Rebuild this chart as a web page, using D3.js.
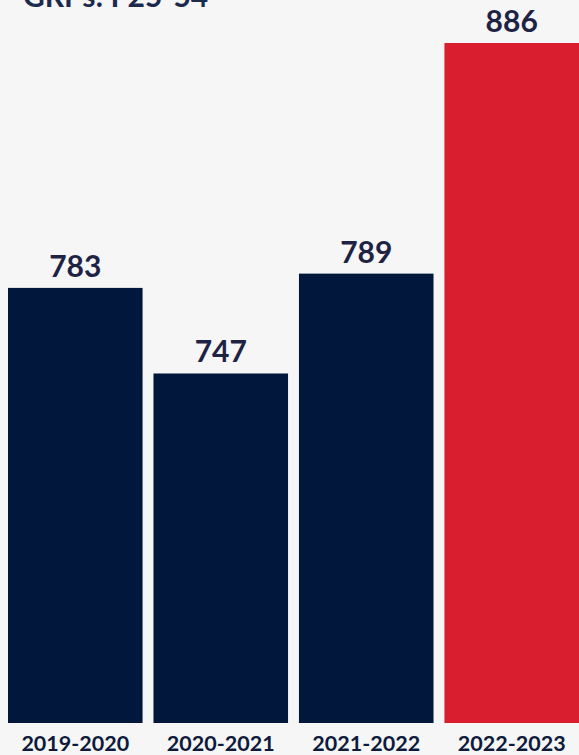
<!DOCTYPE html>
<meta charset="utf-8">
<style>
  body { margin: 0; background: #f6f6f6; }
  svg { display: block; font-family: Lato, "Open Sans", sans-serif; }
</style>
<body>
<script src="https://d3js.org/d3.v7.min.js"></script>
<script>

// data
const seasons = ["2019-2020", "2020-2021", "2021-2022", "2022-2023"];
const grps = [783, 747, 789, 886];
const barColors = ["#02173c", "#02173c", "#02173c", "#d91e30"];
const title = "GRPs: F25-54";

const width = 579, height = 755;
const margin = {top: 43, right: 0, bottom: 32, left: 8};

const svg = d3.select("body").append("svg")
    .attr("width", width)
    .attr("height", height);

svg.append("rect")
    .attr("width", width)
    .attr("height", height)
    .attr("fill", "#f6f6f6");

// scales
const x = d3.scaleBand()
    .domain(seasons)
    .range([margin.left, width - margin.right])
    .paddingInner(0.075)
    .paddingOuter(0);

const y = d3.scaleLinear()
    .domain([600, d3.max(grps)])
    .range([height - margin.bottom, margin.top]);

const data = seasons.map((s, i) => ({season: s, value: grps[i], color: barColors[i]}));

// bars
svg.selectAll("rect.bar")
    .data(data)
  .enter().append("rect")
    .attr("class", "bar")
    .attr("x", d => x(d.season))
    .attr("y", d => y(d.value))
    .attr("width", x.bandwidth())
    .attr("height", d => y(600) - y(d.value))
    .attr("fill", d => d.color);

// value labels
svg.selectAll("text.value")
    .data(data)
  .enter().append("text")
    .attr("class", "value")
    .attr("x", d => x(d.season) + x.bandwidth() / 2)
    .attr("y", d => y(d.value) - 11)
    .attr("text-anchor", "middle")
    .attr("font-size", 30)
    .attr("font-weight", 700)
    .attr("fill", "#1e2243")
    .text(d => d.value);

// x axis (labels only)
const xAxis = d3.axisBottom(x).tickSize(0).tickPadding(0);
const gx = svg.append("g")
    .attr("transform", "translate(0," + (height - margin.bottom) + ")")
    .call(xAxis);
gx.select(".domain").remove();
gx.selectAll("text")
    .attr("dy", null)
    .attr("y", 28)
    .attr("font-family", "Lato, sans-serif")
    .attr("font-size", 21.5)
    .attr("font-weight", 700)
    .attr("fill", "#0d1a3b");

// title, cut off at the top edge
svg.append("text")
    .attr("x", 23)
    .attr("y", 7)
    .attr("font-size", 30)
    .attr("font-weight", 700)
    .attr("fill", "#1c2a4d")
    .text(title);

</script>
</body>
